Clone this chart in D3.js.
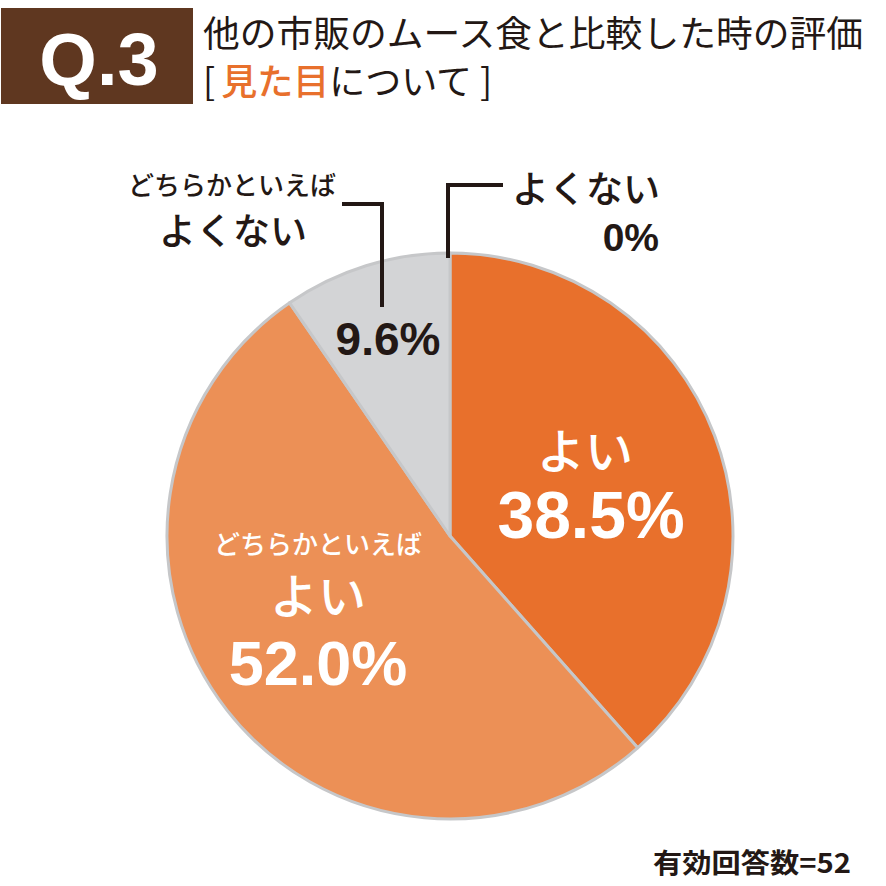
<!DOCTYPE html>
<html>
<head>
<meta charset="utf-8">
<script src="https://cdn.jsdelivr.net/npm/d3@7"></script>
<style>
  body { margin: 0; background: #fff; }
  svg { display: block; }
</style>
</head>
<body>
<svg id="chart" width="886" height="886"></svg>
<script>
// 回答データ（時計回り、上から）
const categories = ["よい", "どちらかといえばよい", "どちらかといえばよくない", "よくない"];
const values = [38.5, 52.0, 9.6, 0];
const percentLabels = ["38.5%", "52.0%", "9.6%", "0%"];
const colors = ["#e8702c", "#ec9056", "#d3d4d6", "#d3d4d6"];
const titleLine1 = "他の市販のムース食と比較した時の評価";
const respondents = "有効回答数=52";

const svg = d3.select("#chart");
const jp = "'Noto Sans CJK JP', 'Noto Sans', sans-serif";
const num = "'Liberation Sans', Arial, sans-serif";

// ヘッダー
svg.append("rect")
  .attr("x", 1).attr("y", 8).attr("width", 192).attr("height", 96)
  .attr("fill", "#5f3720");
svg.append("text")
  .attr("x", 99).attr("y", 85)
  .attr("text-anchor", "middle")
  .attr("font-family", num).attr("font-weight", "bold").attr("font-size", 74)
  .attr("fill", "#fff")
  .text("Q.3");

svg.append("text")
  .attr("x", 203).attr("y", 47)
  .attr("font-family", jp).attr("font-weight", 400).attr("font-size", 36)
  .attr("textLength", 660).attr("lengthAdjust", "spacingAndGlyphs")
  .attr("fill", "#231815")
  .text(titleLine1);

const t2 = svg.append("text")
  .attr("x", 203).attr("y", 95)
  .attr("font-family", jp).attr("font-weight", 400).attr("font-size", 36)
  .attr("fill", "#231815");
t2.append("tspan").text("[");
t2.append("tspan").attr("fill", "#e8702c").attr("font-weight", 500).attr("dx", 6).text("見た目");
t2.append("tspan").text("について");
t2.append("tspan").attr("dx", 8).text("]");

// 円グラフ
const cx = 450, cy = 536, r = 283;
const pie = d3.pie().sort(null).value(d => d)
  .startAngle(0).endAngle(2 * Math.PI);
const arcs = pie(values);
const arc = d3.arc().innerRadius(0).outerRadius(r);

const g = svg.append("g").attr("transform", `translate(${cx},${cy})`);
g.selectAll("path")
  .data(arcs.filter(d => d.data > 0))
  .join("path")
  .attr("d", arc)
  .attr("fill", (d) => colors[d.index])
  .attr("stroke", "#c6c7c9")
  .attr("stroke-width", 3)
  .attr("stroke-linejoin", "round");

// 円内ラベル
function label(x, y, txt, font, size, weight, fill) {
  svg.append("text")
    .attr("x", x).attr("y", y)
    .attr("text-anchor", "middle")
    .attr("font-family", font).attr("font-size", size).attr("font-weight", weight)
    .attr("fill", fill)
    .text(txt);
}

label(585, 469, categories[0], jp, 48, 500, "#fff");
label(591, 538, percentLabels[0], num, 66, "bold", "#fff");

label(318, 554, "どちらかといえば", jp, 26, 500, "#fff");
label(318, 614, "よい", jp, 48, 500, "#fff");
label(318, 685, percentLabels[1], num, 63, "bold", "#fff");

label(388, 355, percentLabels[2], num, 46, "bold", "#231815");

// 外側ラベル
label(232, 195, "どちらかといえば", jp, 26, 500, "#231815");
label(233, 245, "よくない", jp, 37, 500, "#231815");

svg.append("text")
  .attr("x", 660).attr("y", 203)
  .attr("text-anchor", "end")
  .attr("font-family", jp).attr("font-size", 37).attr("font-weight", 500)
  .attr("fill", "#231815")
  .text(categories[3]);
svg.append("text")
  .attr("x", 659).attr("y", 251)
  .attr("text-anchor", "end")
  .attr("font-family", num).attr("font-size", 39).attr("font-weight", "bold")
  .attr("fill", "#231815")
  .text(percentLabels[3]);

// 引き出し線
const lineGen = d3.line();
svg.append("path")
  .attr("d", lineGen([[342, 204], [382, 204], [382, 307]]))
  .attr("fill", "none").attr("stroke", "#231815").attr("stroke-width", 4);
svg.append("path")
  .attr("d", lineGen([[448, 258], [448, 185], [503, 185]]))
  .attr("fill", "none").attr("stroke", "#231815").attr("stroke-width", 4);

// 回答数
svg.append("text")
  .attr("x", 851).attr("y", 873)
  .attr("text-anchor", "end")
  .attr("font-family", jp).attr("font-weight", "bold").attr("font-size", 27)
  .attr("textLength", 198).attr("lengthAdjust", "spacingAndGlyphs")
  .attr("fill", "#231815")
  .text(respondents);
</script>
</body>
</html>
